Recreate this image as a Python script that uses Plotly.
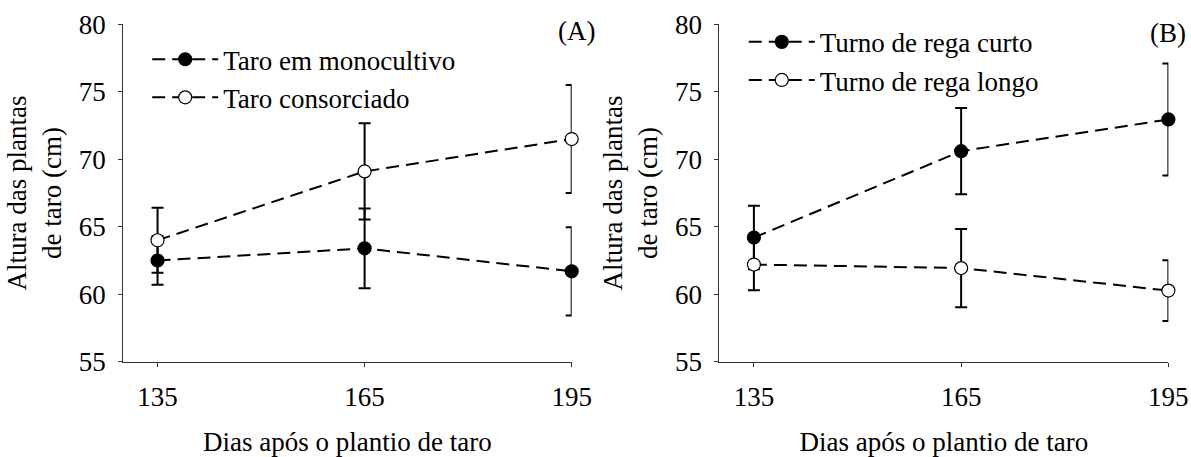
import plotly.graph_objects as go
from plotly.subplots import make_subplots

days = [135, 165, 195]

# Panel A
mono = [62.5, 63.4, 61.7]
mono_err = [1.8, 2.95, 3.27]
cons = [64.0, 69.1, 71.5]
cons_err = [2.4, 3.56, 4.0]

# Panel B
curto = [64.2, 70.6, 72.95]
curto_err = [2.35, 3.2, 4.15]
longo = [62.2, 61.94, 60.27]
longo_err = [1.9, 2.9, 2.25]

FONT = "Liberation Serif, Times New Roman, serif"

fig = make_subplots(rows=1, cols=2)

def add_series(y, err, name, filled, col, legend):
    fig.add_trace(go.Scatter(
        x=days, y=y, name=name, mode="lines+markers", cliponaxis=False,
        line=dict(color="black", width=2, dash="13px,7px"),
        marker=dict(size=13, color="black" if filled else "white",
                    line=dict(color="black", width=1.2)),
        error_y=dict(type="data", array=err, visible=True,
                     color="black", thickness=2, width=6),
        legend=legend,
    ), row=1, col=col)

add_series(mono, mono_err, "Taro em monocultivo", True, 1, "legend")
add_series(cons, cons_err, "Taro consorciado", False, 1, "legend")
add_series(curto, curto_err, "Turno de rega curto", True, 2, "legend2")
add_series(longo, longo_err, "Turno de rega longo", False, 2, "legend2")

axis_common = dict(showline=True, linecolor="#333333", linewidth=1, ticks="outside",
                   ticklen=4, tickcolor="#333333", showgrid=False, zeroline=False,
                   automargin=False, ticklabelstandoff=7,
                   tickfont=dict(family=FONT, size=27, color="black"))

fig.update_xaxes(range=[130, 195], tickvals=days, **axis_common,
                 title=dict(text="Dias após o plantio de taro",
                            font=dict(family=FONT, size=27, color="black"), standoff=25))
fig.update_yaxes(range=[55, 80], tickvals=[55, 60, 65, 70, 75, 80], **axis_common,
                 title=dict(text="Altura das plantas<br>de taro (cm)",
                            font=dict(family=FONT, size=27, color="black"), standoff=9))

fig.update_layout(
    width=1191, height=457,
    plot_bgcolor="white", paper_bgcolor="white",
    margin=dict(l=0, r=0, t=0, b=0),
    xaxis=dict(domain=[0.1033, 0.480]),
    xaxis2=dict(domain=[0.604, 0.981]),
    yaxis=dict(domain=[0.2085, 0.9468]),
    yaxis2=dict(domain=[0.2085, 0.9468]),
    legend=dict(x=0.1236, y=0.923, xanchor="left", yanchor="top", bgcolor="rgba(0,0,0,0)",
                font=dict(family=FONT, size=27, color="black"), itemwidth=66),
    legend2=dict(x=0.6245, y=0.961, xanchor="left", yanchor="top", bgcolor="rgba(0,0,0,0)",
                 font=dict(family=FONT, size=27, color="black"), itemwidth=66),
    annotations=[
        dict(text="(A)", x=597 / 1191, y=1 - 31 / 457, xref="paper", yref="paper",
             showarrow=False, xanchor="right", yanchor="middle",
             font=dict(family=FONT, size=27, color="black")),
        dict(text="(B)", x=1188 / 1191, y=1 - 33 / 457, xref="paper", yref="paper",
             showarrow=False, xanchor="right", yanchor="middle",
             font=dict(family=FONT, size=27, color="black")),
    ],
)

fig.write_html(
    "out.html",
    config={"displayModeBar": False},
    post_script="document.body.style.margin='0';document.body.style.overflow='hidden';",
)
